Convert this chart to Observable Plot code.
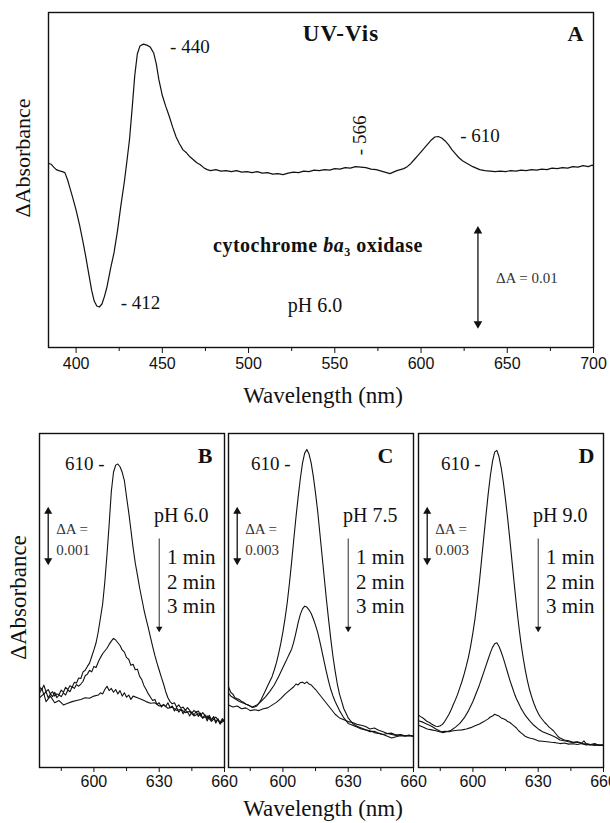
<!DOCTYPE html>
<html><head><meta charset="utf-8">
<script src="https://cdn.jsdelivr.net/npm/d3@7"></script>
<script src="https://cdn.jsdelivr.net/npm/@observablehq/plot@0.6"></script>
<style>
body{margin:0;background:#fff;}
#fig{position:relative;width:610px;height:823px;overflow:hidden;background:#fff;}
#fig svg{position:absolute;}
</style></head><body><div id="fig"></div>
<script>
// ================= DATA =================
// Values are ΔA in units of 10^-3 (mΔA), wavelength in nm.
// Panel A: UV-Vis difference spectrum of cytochrome ba3 oxidase, pH 6.0
const spectrumA = [[384,0.95],[385.5,0.85],[387,0.55],[388.5,0.3],[390,0.2],[392,0.1],[393.5,0.0],[395,-0.7],[396.5,-1.6],[398,-2.5],
[400,-3.8],[402,-5.3],[404,-7.0],[405.5,-8.4],[407.5,-10.4],[409,-11.9],[410.5,-13.0],[412,-13.5],[413.5,-13.6],[415,-13.3],
[416.5,-12.5],[418,-11.5],[420,-9.7],[422,-8.1],[424,-5.9],[426,-3.3],[428,-0.9],[429.5,1.2],[431,3.4],[432.5,6.5],
[434,9.8],[435.5,12.0],[437,12.8],[439,13.0],[441,12.9],[443,12.7],[445,12.1],[446.5,11.0],[448,9.4],[450,7.8],
[452,6.7],[454,5.7],[456,4.6],[458,3.6],[460,2.9],[462,2.3],[464,2.0],[466,1.6],[468,1.3],[470,1.0],
[472,0.8],[474,0.5],[476,0.3],[478,0.2],[481,0.3],[484,0.15],[487,0.2],[490,0.1],[493,0.2],[496,0.05],
[499,0.1],[502,0.0],[505,0.1],[508,-0.05],[511,0.0],[514,-0.15],[517,-0.1],[520,-0.2],[523,-0.05],[526,0.05],
[529,0.0],[532,0.15],[535,0.1],[538,0.25],[541,0.2],[544,0.3],[547,0.25],[550,0.4],[553,0.35],[556,0.5],
[559,0.45],[562,0.6],[565,0.55],[568,0.5],[571,0.35],[574,0.3],[577,0.15],[580,0.0],[582,-0.1],[584,0.05],
[586,0.2],[588,0.3],[590,0.4],[592,0.6],[594,0.9],[596,1.3],[598,1.7],[600,2.1],[602,2.5],[604,2.9],
[606,3.3],[608,3.6],[610,3.65],[612,3.5],[614,3.2],[616,2.8],[618,2.3],[620,1.9],[622,1.5],[624,1.2],
[626,1.0],[628,0.8],[630,0.6],[632,0.45],[634,0.3],[637,0.2],[640,0.15],[643,0.1],[646,0.15],[649,0.1],
[652,0.2],[655,0.15],[658,0.25],[661,0.2],[664,0.3],[667,0.25],[670,0.35],[673,0.3],[676,0.45],[679,0.4],
[682,0.5],[685,0.45],[688,0.6],[691,0.55],[694,0.7],[697,0.6],[699,0.75],[700,0.7]];
const peakLabelsA = [440, 412, 566, 610];
const scaleBarA = 0.01;            // ΔA
const xTicksA = [400, 450, 500, 550, 600, 650, 700];
const xMinorTicksA = [425, 475, 525, 575, 625, 675];

// Panels B-D: 610 nm band decay at 1, 2, 3 min
const panelB_1min = [[575,0.25],[576,0.19],[577,0.28],[578,0.16],[579,0.20],[580,0.12],[581,0.16],[582,0.08],[583,0.12],[584,0.11],
[585,0.19],[586,0.15],[587,0.24],[588,0.20],[589,0.27],[590,0.24],[591,0.33],[592,0.32],[593,0.41],[594,0.40],
[595,0.52],[596,0.55],[597,0.62],[598,0.68],[599,0.80],[600,0.92],[601,1.05],[602,1.25],[603,1.50],[604,1.75],
[605,2.15],[606,2.65],[607,3.20],[608,3.80],[609,4.15],[610,4.28],[611,4.30],[612,4.25],[613,4.15],[614,4.00],
[615,3.70],[616,3.42],[617,3.10],[618,2.78],[619,2.50],[620,2.28],[621,2.05],[622,1.85],[623,1.65],[624,1.48],
[625,1.32],[626,1.15],[627,0.98],[628,0.82],[629,0.68],[630,0.55],[631,0.42],[632,0.30],[633,0.16],[634,0.05],
[635,-0.02],[636,-0.06],[637,-0.04],[638,-0.12],[639,-0.08],[640,-0.14],[641,-0.12],[642,-0.18],[643,-0.13],[644,-0.18],
[645,-0.23],[646,-0.18],[647,-0.22],[648,-0.19],[649,-0.27],[650,-0.22],[651,-0.27],[652,-0.33],[653,-0.27],[654,-0.35],
[655,-0.30],[656,-0.39],[657,-0.34],[658,-0.40],[659,-0.33],[660,-0.37]];
const panelB_2min = [[575,0.13],[576,0.22],[577,0.11],[578,0.16],[579,0.05],[580,0.12],[581,0.07],[582,0.15],[583,0.05],[584,0.10],
[585,0.07],[586,0.14],[587,0.10],[588,0.19],[589,0.16],[590,0.25],[591,0.22],[592,0.29],[593,0.26],[594,0.30],
[595,0.35],[596,0.45],[597,0.48],[598,0.55],[599,0.52],[600,0.62],[601,0.60],[602,0.70],[603,0.78],[604,0.85],
[605,0.90],[606,0.95],[607,1.02],[608,1.08],[609,1.13],[610,1.10],[611,1.05],[612,1.00],[613,0.92],[614,0.88],
[615,0.78],[616,0.75],[617,0.64],[618,0.66],[619,0.56],[620,0.57],[621,0.44],[622,0.38],[623,0.27],[624,0.20],
[625,0.12],[626,0.06],[627,0.00],[628,0.02],[629,-0.07],[630,-0.04],[631,-0.12],[632,-0.07],[633,-0.11],[634,-0.04],
[635,-0.13],[636,-0.10],[637,-0.19],[638,-0.13],[639,-0.21],[640,-0.16],[641,-0.24],[642,-0.18],[643,-0.21],[644,-0.28],
[645,-0.21],[646,-0.26],[647,-0.20],[648,-0.29],[649,-0.23],[650,-0.32],[651,-0.26],[652,-0.37],[653,-0.30],[654,-0.36],
[655,-0.29],[656,-0.41],[657,-0.33],[658,-0.43],[659,-0.35],[660,-0.39]];
const panelB_3min = [[575,0.05],[577,0.12],[578,-0.02],[580,0.08],[582,-0.04],[584,0.00],[586,-0.08],[588,-0.05],[590,-0.02],[592,0.00],
[594,0.02],[596,0.05],[598,0.04],[600,0.08],[602,0.10],[603,0.14],[604,0.12],[605,0.20],[606,0.26],[607,0.18],
[608,0.22],[609,0.15],[610,0.20],[611,0.12],[612,0.18],[613,0.08],[614,0.14],[615,0.06],[616,0.10],[617,0.02],
[618,0.08],[620,0.05],[622,0.02],[624,-0.02],[626,-0.05],[628,-0.04],[630,-0.10],[632,-0.08],[634,-0.14],[636,-0.12],
[638,-0.18],[640,-0.16],[642,-0.22],[644,-0.20],[646,-0.28],[648,-0.24],[650,-0.32],[652,-0.28],[654,-0.38],[656,-0.30],
[658,-0.42],[660,-0.36]];

const panelC_1min = [[575,0.75],[576,0.45],[577,0.35],[578,0.15],[579,0.10],[580,0.05],[581,-0.05],[582,-0.10],[583,-0.20],[584,-0.25],
[585,-0.32],[586,-0.38],[587,-0.35],[588,-0.30],[589,-0.15],[590,0.05],[591,0.30],[592,0.55],[593,0.80],[594,1.05],
[595,1.30],[596,1.65],[597,2.05],[598,2.55],[599,3.10],[600,3.75],[601,4.50],[602,5.35],[603,6.40],[604,7.55],
[605,8.80],[606,10.00],[607,11.10],[608,12.10],[609,12.95],[610,13.50],[611,13.70],[612,13.45],[613,12.95],[614,12.20],
[615,11.30],[616,10.30],[617,9.10],[618,7.90],[619,6.70],[620,5.50],[621,4.40],[622,3.35],[623,2.40],[624,1.60],
[625,0.90],[626,0.35],[627,-0.05],[628,-0.45],[629,-0.70],[630,-0.95],[631,-1.10],[632,-1.25],[634,-1.40],[636,-1.50],
[638,-1.60],[640,-1.65],[642,-1.75],[644,-1.80],[646,-1.85],[648,-1.80],[650,-1.85],[652,-1.90],[654,-1.88],[656,-1.92],
[658,-1.90],[660,-1.95]];
const panelC_2min = [[575,0.40],[576,0.25],[578,0.10],[580,-0.05],[582,-0.15],[584,-0.25],[586,-0.35],[588,-0.25],[590,-0.05],[592,0.20],
[594,0.50],[596,0.85],[598,1.30],[600,1.80],[601,2.05],[602,2.30],[603,2.55],[604,2.80],[605,3.20],[606,3.70],
[607,4.25],[608,4.70],[609,5.00],[610,5.15],[611,5.10],[612,4.95],[613,4.75],[614,4.45],[615,4.10],[616,3.70],
[617,3.20],[618,2.65],[619,2.10],[620,1.55],[621,1.05],[622,0.60],[623,0.25],[624,-0.05],[625,-0.30],[626,-0.55],
[627,-0.75],[628,-0.95],[629,-1.10],[630,-1.25],[632,-1.35],[634,-1.45],[636,-1.55],[638,-1.60],[640,-1.70],[642,-1.68],
[644,-1.78],[646,-1.85],[648,-1.95],[650,-2.05],[652,-1.98],[654,-1.92],[656,-1.95],[658,-1.90],[660,-1.95]];
const panelC_3min = [[575,-0.25],[577,-0.35],[579,-0.30],[581,-0.45],[583,-0.40],[585,-0.55],[587,-0.50],[589,-0.55],[591,-0.45],[593,-0.40],
[595,-0.25],[597,-0.10],[599,0.10],[601,0.35],[603,0.55],[605,0.75],[606,0.90],[607,0.85],[608,0.98],[609,1.00],
[610,0.92],[611,1.02],[612,0.90],[613,0.85],[614,0.72],[615,0.60],[616,0.45],[617,0.30],[618,0.15],[619,0.00],
[620,-0.15],[621,-0.30],[622,-0.45],[623,-0.60],[624,-0.75],[625,-0.85],[626,-0.95],[628,-1.05],[630,-1.15],[632,-1.20],
[634,-1.30],[636,-1.35],[638,-1.42],[640,-1.55],[642,-1.50],[644,-1.62],[646,-1.70],[648,-1.80],[650,-1.78],[652,-1.88],
[654,-1.85],[656,-1.92],[658,-1.90],[660,-1.95]];

const panelD_1min = [[575,-0.80],[576,-0.88],[577,-0.95],[578,-1.05],[579,-1.15],[580,-1.20],[581,-1.28],[582,-1.35],[583,-1.40],[584,-1.42],
[585,-1.38],[586,-1.30],[587,-1.15],[588,-0.95],[589,-0.75],[590,-0.50],[591,-0.22],[592,0.05],[593,0.35],[594,0.70],
[595,1.05],[596,1.45],[597,1.90],[598,2.40],[599,3.00],[600,3.70],[601,4.50],[602,5.45],[603,6.50],[604,7.70],
[605,8.90],[606,10.10],[607,11.25],[608,12.25],[609,13.05],[610,13.55],[611,13.65],[612,13.30],[613,12.70],[614,11.90],
[615,10.95],[616,9.90],[617,8.75],[618,7.55],[619,6.35],[620,5.20],[621,4.15],[622,3.20],[623,2.40],[624,1.70],
[625,1.10],[626,0.60],[627,0.20],[628,-0.15],[629,-0.45],[630,-0.70],[631,-0.90],[632,-1.05],[633,-1.20],[634,-1.32],
[635,-1.45],[636,-1.55],[637,-1.65],[638,-1.80],[639,-1.95],[640,-2.05],[642,-2.15],[644,-2.20],[646,-2.28],[648,-2.25],
[650,-2.32],[651,-2.20],[652,-2.35],[654,-2.40],[656,-2.35],[658,-2.45],[660,-2.42]];
const panelD_2min = [[575,-1.10],[577,-1.18],[579,-1.30],[581,-1.40],[583,-1.55],[585,-1.68],[586,-1.75],[588,-1.70],[590,-1.62],[592,-1.45],
[594,-1.25],[596,-0.95],[598,-0.55],[600,-0.05],[601,0.25],[602,0.55],[603,0.85],[604,1.20],[605,1.55],[606,1.90],
[607,2.25],[608,2.60],[609,2.90],[610,3.10],[611,3.15],[612,2.95],[613,2.65],[614,2.30],[615,1.90],[616,1.50],
[617,1.10],[618,0.75],[619,0.40],[620,0.10],[621,-0.15],[622,-0.40],[623,-0.60],[624,-0.80],[625,-0.95],[626,-1.10],
[628,-1.35],[630,-1.55],[632,-1.70],[634,-1.80],[636,-1.90],[638,-2.00],[640,-2.15],[642,-2.20],[644,-2.25],[646,-2.30],
[648,-2.28],[650,-2.35],[652,-2.38],[654,-2.42],[656,-2.40],[658,-2.45],[660,-2.45]];
const panelD_3min = [[575,-1.35],[577,-1.45],[579,-1.55],[581,-1.60],[583,-1.65],[585,-1.72],[587,-1.68],[589,-1.70],[591,-1.65],[593,-1.62],
[595,-1.60],[597,-1.55],[599,-1.48],[601,-1.38],[603,-1.28],[605,-1.15],[607,-1.00],[608,-0.90],[609,-0.85],[610,-0.75],
[611,-0.80],[612,-0.85],[613,-0.95],[614,-1.00],[615,-1.05],[616,-1.15],[617,-1.20],[618,-1.30],[619,-1.40],[620,-1.50],
[621,-1.65],[622,-1.75],[623,-1.85],[624,-1.95],[625,-2.00],[626,-2.05],[628,-2.10],[630,-2.20],[632,-2.22],[634,-2.25],
[636,-2.28],[638,-2.30],[640,-2.35],[642,-2.32],[644,-2.38],[646,-2.36],[648,-2.40],[650,-2.35],[652,-2.42],[654,-2.40],
[656,-2.45],[658,-2.42],[660,-2.45]];

const panelLetters = ["B", "C", "D"];
const pHLabels = ["pH 6.0", "pH 7.5", "pH 9.0"];
const scaleBarsBottom = [0.001, 0.003, 0.003];   // ΔA
const timeLabels = ["1 min", "2 min", "3 min"];
const peakLabelBottom = 610;
const xTicksBottom = [600, 630, 660];
const xMinorTicksBottom = [585, 615, 645];

// ================= DRAWING =================
const SERIF = "'Liberation Serif','Times New Roman',serif";
const SANS = "'Liberation Sans',Arial,sans-serif";
const INK = "#111";
const fig = document.getElementById("fig");

const rows = (pairs, series) => pairs.map(([wl, v]) => ({wl, v, series}));
const nearest = (pairs, wl) => pairs.reduce((a, b) => Math.abs(b[0] - wl) < Math.abs(a[0] - wl) ? b : a)[1];
const txt = (o) => ({fontFamily: SERIF, fill: INK, lineAnchor: "middle", ...o});

// double-headed scale bar: line + two small filled triangles
function scaleBar(data, r = 3.2, sw = 1.3) {
  return [
    Plot.link(data, {x1: "wl", x2: "wl", y1: "y1", y2: "y2", stroke: INK, strokeWidth: sw}),
    Plot.dot(data, {x: "wl", y: "y1", symbol: "triangle", r, fill: INK, stroke: null, dy: 3}),
    Plot.dot(data, {x: "wl", y: "y2", symbol: "triangle", r, fill: INK, stroke: null, rotate: 180, dy: -3})
  ];
}

// ---------- Panel A ----------
const peakStyle = {440: {dx: 25, dy: 3}, 412: {dx: 24, dy: -3}, 610: {dx: 22, dy: -1}};
const peakMarks = peakLabelsA.map(wl => {
  const d = [{wl, v: nearest(spectrumA, wl)}];
  if (wl === 566) {
    return Plot.text(d, txt({x: "wl", y: "v", text: () => "- " + wl, rotate: -90, textAnchor: "start", dx: -2, dy: -12, fontSize: 19}));
  }
  return Plot.text(d, txt({x: "wl", y: "v", text: () => "- " + wl, textAnchor: "start", dx: peakStyle[wl].dx, dy: peakStyle[wl].dy, fontSize: 19}));
});
const barA = [{wl: 633, y1: -5.6, y2: -5.6 - scaleBarA * 1000}];

const plotA = Plot.plot({
  width: 610, height: 415,
  marginLeft: 48, marginRight: 17, marginTop: 12, marginBottom: 68,
  style: {background: "transparent", overflow: "visible"},
  x: {domain: [384, 700]},
  y: {domain: [-17.7, 16.2], axis: null},
  marks: [
    Plot.axisX({ticks: xTicksA, tickSize: 6, tickPadding: 4, fontSize: 16, fontFamily: SANS, label: null, color: INK}),
    Plot.axisX({ticks: xMinorTicksA, tickSize: 4, tickFormat: () => "", label: null, color: INK}),
    Plot.frame({stroke: INK, strokeWidth: 1.4}),
    Plot.line(rows(spectrumA, "A"), {x: "wl", y: "v", stroke: INK, strokeWidth: 1.2}),
    ...peakMarks,
    Plot.text(["UV-Vis"], txt({frameAnchor: "top", dx: 20, dy: 21, fontSize: 23, fontWeight: "bold"})),
    Plot.text(["A"], txt({frameAnchor: "top-right", textAnchor: "end", dx: -10, dy: 21, fontSize: 22, fontWeight: "bold"})),
    Plot.text(["cytochrome ba3 oxidase"], txt({frameAnchor: "top", dx: -3, dy: 233, fontSize: 20, fontWeight: "bold"})),
    Plot.text(["pH 6.0"], txt({frameAnchor: "bottom", dx: -6, dy: -42, fontSize: 20})),
    ...scaleBar(barA),
    Plot.text(barA, txt({x: "wl", y: d => (d.y1 + d.y2) / 2, text: () => "ΔA = " + scaleBarA, textAnchor: "start", dx: 18, dy: 1, fontSize: 15, fill: "#333"})),
    Plot.text(["Wavelength (nm)"], txt({frameAnchor: "bottom", dx: 2, dy: 48, fontSize: 23})),
    Plot.text(["ΔAbsorbance"], txt({frameAnchor: "left", textAnchor: "middle", rotate: -90, dx: -26, dy: -22, fontSize: 22}))
  ]
});
plotA.style.left = "0px"; plotA.style.top = "0px";
fig.appendChild(plotA);

const byText = (svg, s) => d3.select(svg).selectAll("text").filter(function() { return this.textContent === s; });
byText(plotA, "UV-Vis").attr("letter-spacing", "1px");
// rich text: italic "ba", subscript "3"
byText(plotA, "cytochrome ba3 oxidase").attr("letter-spacing", "0.5px").each(function() {
  const t = d3.select(this);
  t.text(null);
  t.append("tspan").text("cytochrome ");
  t.append("tspan").attr("font-style", "italic").text("ba");
  t.append("tspan").attr("font-size", 12).attr("dy", 4).text("3");
  t.append("tspan").attr("dy", -4).text(" oxidase");
});

// ---------- Panels B, C, D ----------
const bottomSeries = [
  [panelB_1min, panelB_2min, panelB_3min],
  [panelC_1min, panelC_2min, panelC_3min],
  [panelD_1min, panelD_2min, panelD_3min]
];
const layouts = [
  {left: 0,   width: 245, ml: 39, mr: 21, yDomain: [-1.218, 4.855], letterDx: -12, peakDx: -11},
  {left: 208, width: 226, ml: 20, mr: 21, yDomain: [-3.655, 14.57], letterDx: -20, peakDx: -14},
  {left: 398, width: 212, ml: 20, mr: 7,  yDomain: [-3.655, 14.57], letterDx: -9,  peakDx: -14}
];

layouts.forEach((L, i) => {
  const data = bottomSeries[i].flatMap((s, k) => rows(s, timeLabels[k]));
  const units = scaleBarsBottom[i] * 1000;
  const top = L.yDomain[1];
  const span = L.yDomain[1] - L.yDomain[0];
  const bar = [{wl: 579, y1: top - 0.2245 * span, y2: top - 0.2245 * span - units}];
  const timeArrow = [{wl: 630, y1: top - 0.3144 * span, y2: top - 0.5898 * span}];
  const marks = [
    Plot.axisX({ticks: xTicksBottom, tickSize: 5, tickPadding: 3, fontSize: 16, fontFamily: SANS, label: null, color: INK}),
    Plot.axisX({ticks: xMinorTicksBottom, tickSize: 4, tickFormat: () => "", label: null, color: INK}),
    Plot.frame({stroke: INK, strokeWidth: 1.4}),
    Plot.line(data, {x: "wl", y: "v", z: "series", stroke: INK, strokeWidth: 1.1}),
    Plot.text([panelLetters[i]], txt({frameAnchor: "top-right", textAnchor: "end", dx: L.letterDx, dy: 22, fontSize: 22, fontWeight: "bold"})),
    Plot.text([peakLabelBottom], txt({x: d => d, text: d => d + " -", frameAnchor: "top", textAnchor: "end", dx: L.peakDx, dy: 30, fontSize: 19})),
    Plot.text([pHLabels[i]], txt({frameAnchor: "top-right", textAnchor: "end", dx: -16, dy: 82, fontSize: 20})),
    Plot.text([timeLabels.join("\n")], txt({frameAnchor: "top-right", textAnchor: "end", dx: -9, dy: 147, fontSize: 21, lineHeight: 1.19})),
    ...scaleBar(bar, 3, 1.3),
    Plot.text(bar, txt({x: "wl", y: d => (d.y1 + d.y2) / 2, text: () => "ΔA =\n" + scaleBarsBottom[i], textAnchor: "start", dx: 8, dy: 2, fontSize: 15, lineHeight: 1.4, fill: "#333"})),
    Plot.link(timeArrow, {x1: "wl", x2: "wl", y1: "y1", y2: "y2", stroke: INK, strokeWidth: 0.9}),
    Plot.dot(timeArrow, {x: "wl", y: "y2", symbol: "triangle", r: 2.4, fill: INK, stroke: null, rotate: 180, dy: -2})
  ];
  if (i === 0) marks.push(Plot.text(["ΔAbsorbance"], txt({frameAnchor: "left", textAnchor: "middle", rotate: -90, dx: -21, dy: -3, fontSize: 23})));
  if (i === 1) marks.push(Plot.text(["Wavelength (nm)"], txt({frameAnchor: "bottom", dx: 2, dy: 41, fontSize: 23})));
  const p = Plot.plot({
    width: L.width, height: 408,
    marginLeft: L.ml, marginRight: L.mr, marginTop: 18, marginBottom: 56,
    style: {background: "transparent", overflow: "visible"},
    x: {domain: [575, 660]},
    y: {domain: L.yDomain, axis: null},
    marks
  });
  p.style.left = L.left + "px"; p.style.top = "415px";
  fig.appendChild(p);
});
</script></body></html>
